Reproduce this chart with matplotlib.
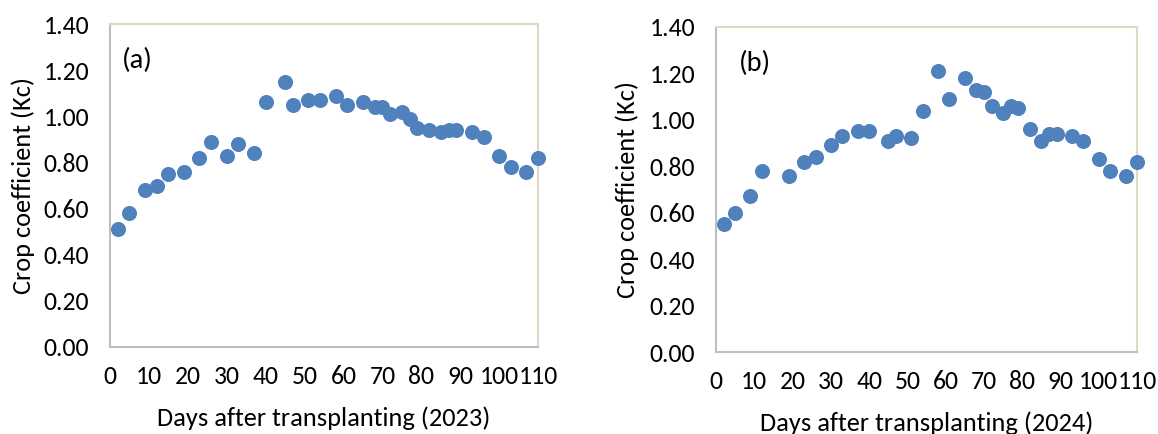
import matplotlib
matplotlib.use("Agg")
import matplotlib.pyplot as plt
from matplotlib import font_manager

days_2023 = [2, 5, 9, 12, 15, 19, 23, 26, 30, 33, 37, 40, 45, 47, 51, 54, 58, 61,
             65, 68, 70, 72, 75, 77, 79, 82, 85, 87, 89, 93, 96, 100, 103, 107, 110]
kc_2023 = [0.51, 0.58, 0.68, 0.70, 0.75, 0.76, 0.82, 0.89, 0.83, 0.88, 0.84, 1.06,
           1.15, 1.05, 1.07, 1.07, 1.09, 1.05, 1.06, 1.04, 1.04, 1.01, 1.02, 0.99,
           0.95, 0.94, 0.93, 0.94, 0.94, 0.93, 0.91, 0.83, 0.78, 0.76, 0.82]

days_2024 = [2, 5, 9, 12, 19, 23, 26, 30, 33, 37, 40, 45, 47, 51, 54, 58, 61,
             65, 68, 70, 72, 75, 77, 79, 82, 85, 87, 89, 93, 96, 100, 103, 107, 110]
kc_2024 = [0.55, 0.60, 0.67, 0.78, 0.76, 0.82, 0.84, 0.89, 0.93, 0.95, 0.95, 0.91,
           0.93, 0.92, 1.04, 1.21, 1.09, 1.18, 1.13, 1.12, 1.06, 1.03, 1.06, 1.05,
           0.96, 0.91, 0.94, 0.94, 0.93, 0.91, 0.83, 0.78, 0.76, 0.82]

x_ticks = [0, 10, 20, 30, 40, 50, 60, 70, 80, 90, 100, 110]
y_ticks = [0.0, 0.2, 0.4, 0.6, 0.8, 1.0, 1.2, 1.4]

installed = set(f.name for f in font_manager.fontManager.ttflist)
if 'Carlito' in installed:
    plt.rcParams['font.family'] = ['Carlito', 'DejaVu Sans']
    TICK_FS, LABEL_FS, TAG_FS = 18.5, 19, 20.5
else:
    plt.rcParams['font.family'] = ['Lato', 'DejaVu Sans']
    TICK_FS, LABEL_FS, TAG_FS = 16.3, 19.5, 19

fig = plt.figure(figsize=(11.58, 4.34), dpi=100)
W, H = 1158, 434

panels = [
    (days_2023, kc_2023, "(a)", "Days after transplanting (2023)", (110, 24, 538, 347), (122, 60), 23),
    (days_2024, kc_2024, "(b)", "Days after transplanting (2024)", (716, 27, 1137, 352), (739, 63), 627),
]

for days, kc, tag, xlabel, (l, t, r, b), (tx, ty), ylx in panels:
    ax = fig.add_axes([l / W, 1 - b / H, (r - l) / W, (b - t) / H])
    ax.scatter(days, kc, s=117, color='#4F81BD', zorder=3, clip_on=False, linewidths=0)
    ax.set_xlim(0, 110)
    ax.set_ylim(0, 1.4)
    ax.set_xticks(x_ticks)
    ax.set_xticklabels([str(v) for v in x_ticks])
    ax.set_yticks(y_ticks)
    ax.set_yticklabels([f"{v:.2f}" for v in y_ticks])
    ax.tick_params(length=0, labelsize=TICK_FS)
    ax.tick_params(axis='x', pad=13)
    ax.tick_params(axis='y', pad=15)
    ax.spines['left'].set_color('#BFBFBF')
    ax.spines['bottom'].set_color('#BFBFBF')
    ax.spines['top'].set_color('#DDD9C3')
    ax.spines['right'].set_color('#DDD9C3')
    for sp in ax.spines.values():
        sp.set_linewidth(1.5)
    ax.set_xlabel(xlabel, fontsize=LABEL_FS, va='baseline')
    ax.xaxis.set_label_coords(0.5, -79 / (b - t))
    ax.set_ylabel("Crop coefficient (Kc)", fontsize=LABEL_FS, va='center',
                  rotation_mode='anchor')
    ax.yaxis.set_label_coords((ylx - l) / (r - l), 0.5)
    ax.text((tx - l) / (r - l), (b - ty) / (b - t), tag, transform=ax.transAxes,
            fontsize=TAG_FS, va='center', ha='left')

fig.savefig("out.png", dpi=100)
